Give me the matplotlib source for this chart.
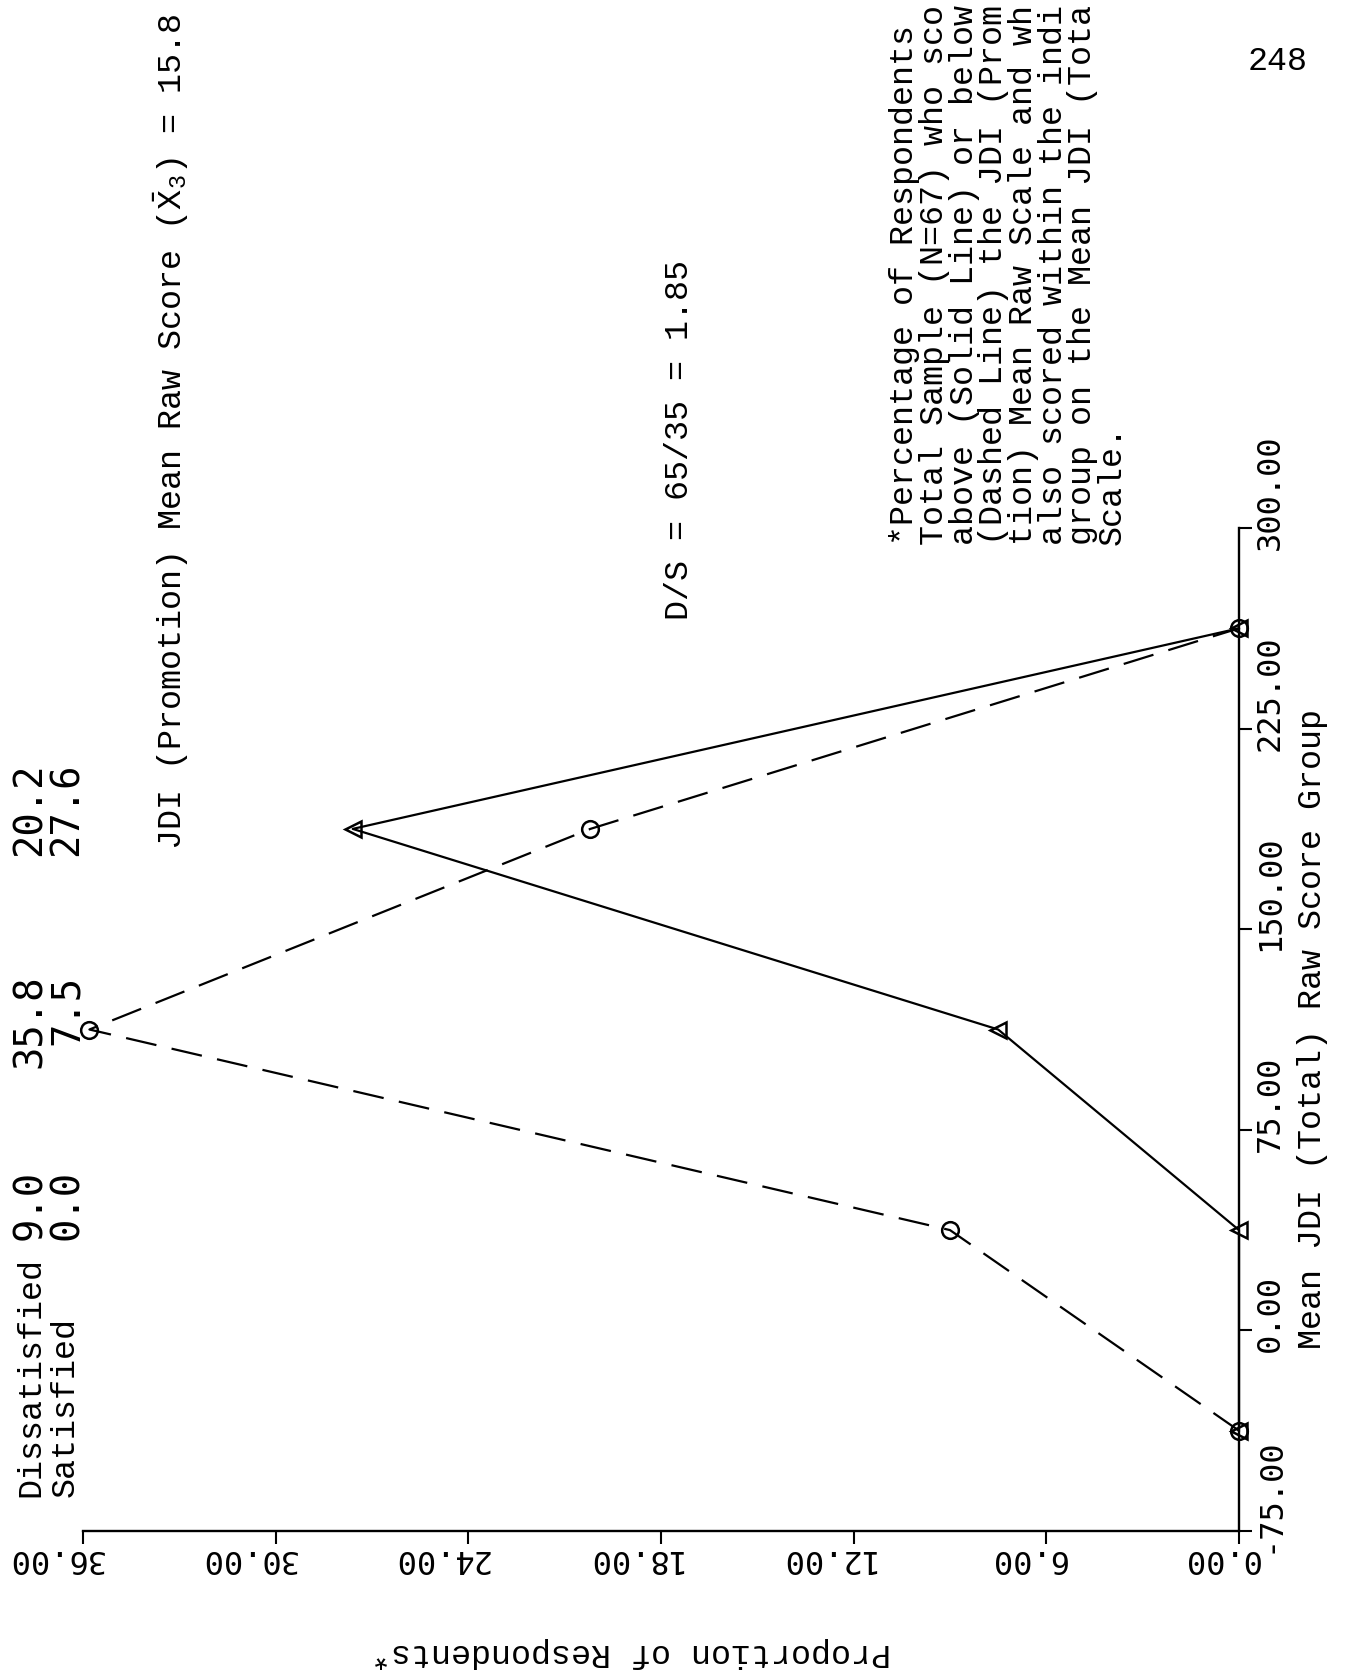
import matplotlib
matplotlib.use("Agg")
import matplotlib.pyplot as plt
from matplotlib.transforms import offset_copy

# Mean JDI (Total) raw score groups (group mid-points)
groups = [-37.5, 37.5, 112.5, 187.5, 262.5]
# Percentage of respondents below (dissatisfied) / above (satisfied) the promotion mean
dissatisfied = [0.0, 9.0, 35.8, 20.2, 0.0]
satisfied = [0.0, 0.0, 7.5, 27.6, 0.0]

score_ticks = [-75, 0, 75, 150, 225, 300]
prop_ticks = [0, 6, 12, 18, 24, 30, 36]

# group values printed along the top of the plot
group_label_idx = [1, 2, 3]

footnote = [
    "*Percentage of Respondents",
    "Total Sample (N=67) who sco",
    "above (Solid Line) or below",
    "(Dashed Line) the JDI (Prom",
    "tion) Mean Raw Scale and wh",
    "also scored within the indi",
    "group on the Mean JDI (Tota",
    "Scale.",
]

plt.rcParams["mathtext.fontset"] = "custom"
plt.rcParams["mathtext.rm"] = "Liberation Mono"
plt.rcParams["mathtext.it"] = "Liberation Mono"

W, H = 1349, 1676
fig = plt.figure(figsize=(W / 100, H / 100), dpi=100)
fig.patch.set_facecolor("white")


def fx(px):
    return px / W


def fy(py):
    return 1 - py / H


TYPE = dict(family="Liberation Mono", fontsize=24, color="black")
PLOT_NUM = dict(family="DejaVu Sans Mono", fontsize=28, color="black")
TICK = dict(family="DejaVu Sans Mono", fontsize=23, color="black")

# page is laid out sideways: proportion runs right-to-left, score runs upward
x0, x1 = 83, 1239
y0, y1 = 1531, 528
ax = fig.add_axes([fx(x0), fy(y0), fx(x1) - fx(x0), (y0 - y1) / H])
ax.set_xlim(36, 0)
ax.set_ylim(-75, 300)
ax.set_facecolor("none")

for s in ("top", "left"):
    ax.spines[s].set_visible(False)
for s in ("right", "bottom"):
    ax.spines[s].set_linewidth(1.7)

ax.yaxis.tick_right()
ax.set_yticks(score_ticks)
ax.set_xticks(prop_ticks)
ax.tick_params(axis="both", direction="out", length=9, width=1.5,
               labelbottom=False, labelright=False, labelleft=False)

# tick labels in plotter style
for v in score_ticks:
    tr = offset_copy(ax.get_yaxis_transform(), fig=fig, x=16, y=-22, units="dots")
    ax.text(1.0, v, f"{v:.2f}", transform=tr, rotation=90,
            rotation_mode="anchor", ha="left", va="top", clip_on=False, **TICK)
for v in prop_ticks:
    tr = offset_copy(ax.get_xaxis_transform(), fig=fig, x=20, y=-19, units="dots")
    ax.text(v, 0.0, f"{v:.2f}", transform=tr, rotation=180,
            rotation_mode="anchor", ha="left", va="baseline", clip_on=False, **TICK)

# data series
ax.plot(dissatisfied, groups, color="black", lw=1.6, ls=(0, (14, 7)),
        marker="o", ms=12, mfc="none", mec="black", mew=1.8, clip_on=False)
ax.plot(satisfied, groups, color="black", lw=1.6, ls="-",
        marker="<", ms=12, mfc="none", mec="black", mew=1.8, clip_on=False)

# axis titles (typewritten)
fig.text(fx(1313), fy(1029), "Mean JDI (Total) Raw Score Group", rotation=90,
         ha="center", va="center", **TYPE)
fig.text(fx(631), fy(1652), "Proportion of Respondents*", rotation=180,
         ha="center", va="center", **TYPE)

# row headings and group percentages
fig.text(fx(31), fy(1497), "Dissatisfied", rotation=90, rotation_mode="anchor",
         ha="left", va="center", **TYPE)
fig.text(fx(65), fy(1497), "Satisfied", rotation=90, rotation_mode="anchor",
         ha="left", va="center", **TYPE)
label_ends = [1170, 975, 762]
for i, yend in zip(group_label_idx, label_ends):
    fig.text(fx(30), fy(yend), f"{dissatisfied[i]:.1f}", rotation=90,
             rotation_mode="anchor", ha="right", va="center", **PLOT_NUM)
    fig.text(fx(67), fy(yend), f"{satisfied[i]:.1f}", rotation=90,
             rotation_mode="anchor", ha="right", va="center", **PLOT_NUM)

# scale mean and ratio
fig.text(fx(171), fy(850), r"JDI (Promotion) Mean Raw Score ($\bar{\mathrm{X}}_3$) = 15.8",
         rotation=90, rotation_mode="anchor", ha="left", va="center", **TYPE)
d_total = sum(dissatisfied)
s_total = sum(satisfied)
fig.text(fx(679), fy(620),
         f"D/S = {d_total:.0f}/{s_total:.0f} = {d_total / s_total:.2f}",
         rotation=90, rotation_mode="anchor", ha="left", va="center", **TYPE)

# footnote
for k, line in enumerate(footnote):
    fig.text(fx(905 + 29.6 * k), fy(545), line, rotation=90,
             rotation_mode="anchor", ha="left", va="center", **TYPE)

# page number
fig.text(fx(1278), fy(61), "248", ha="center", va="center", **TYPE)

fig.savefig("out.png", dpi=100, facecolor="white")
